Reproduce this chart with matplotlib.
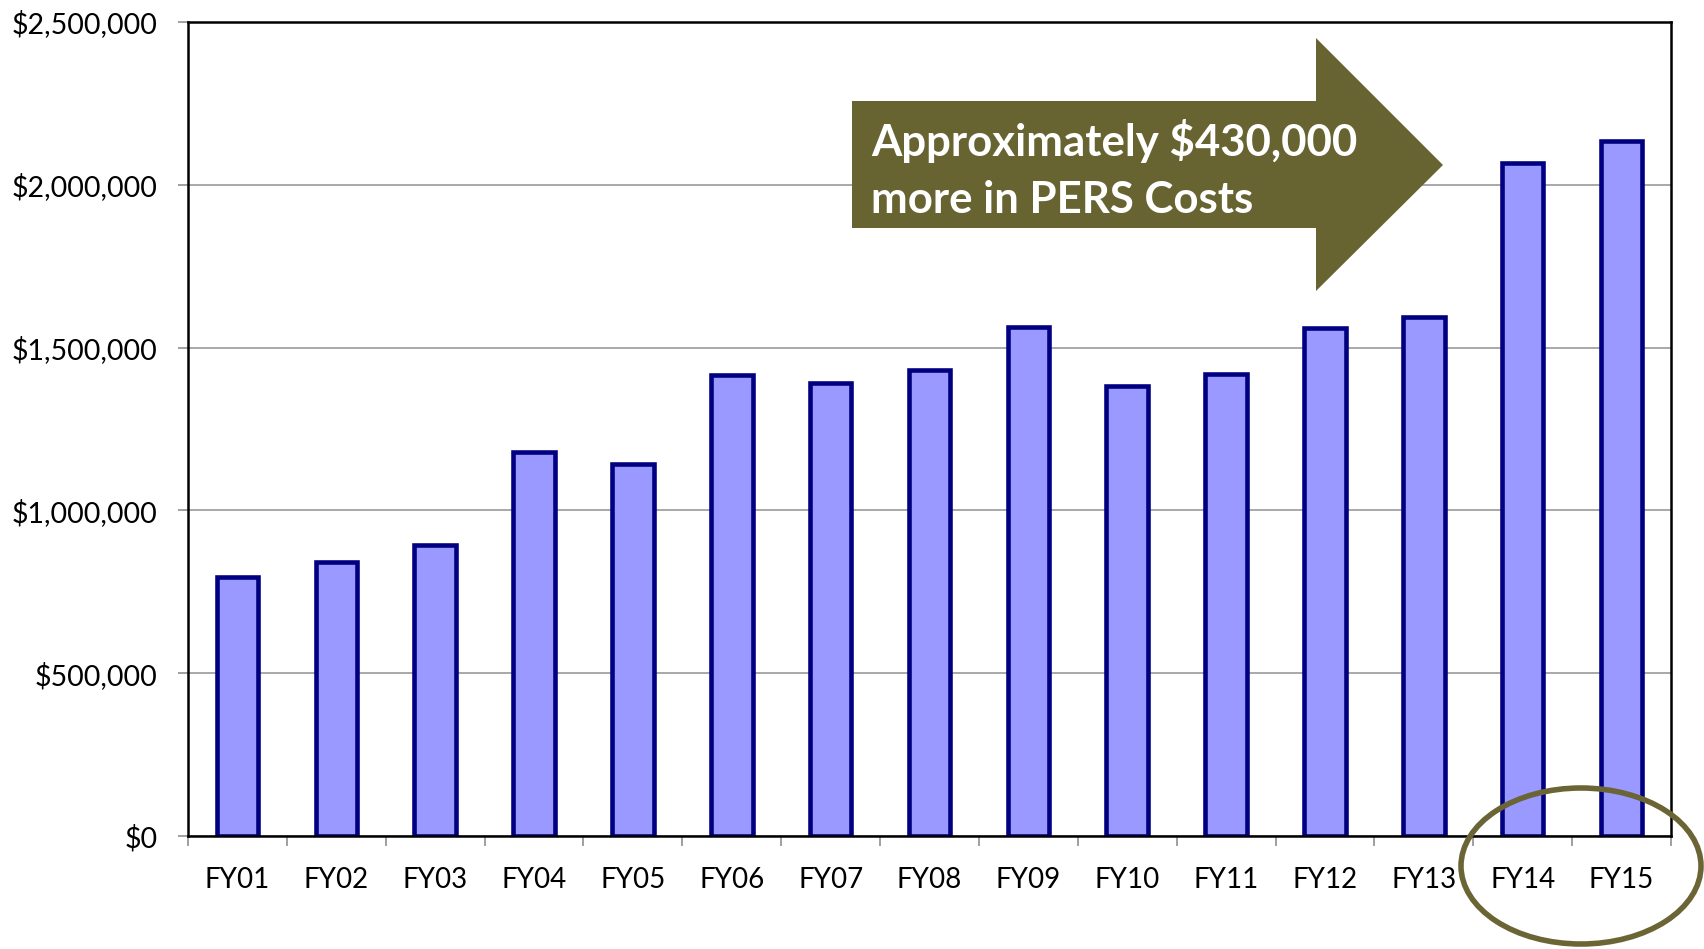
import matplotlib
matplotlib.use("Agg")
import matplotlib.pyplot as plt
from matplotlib.patches import Polygon, Ellipse
from matplotlib.ticker import FuncFormatter, FixedLocator

categories = ["FY01", "FY02", "FY03", "FY04", "FY05", "FY06", "FY07", "FY08",
              "FY09", "FY10", "FY11", "FY12", "FY13", "FY14", "FY15"]
pers_costs = [795000, 843000, 893000, 1180000, 1143000, 1417000, 1390000, 1430000,
              1563000, 1383000, 1420000, 1560000, 1593000, 2067000, 2133000]
y_ticks = [0, 500000, 1000000, 1500000, 2000000, 2500000]
callout_lines = ["Approximately $430,000", "more in PERS Costs"]

W, H = 1704, 949
fig = plt.figure(figsize=(W / 100, H / 100), dpi=100)
plt.rcParams['font.family'] = ['Lato', 'DejaVu Sans']

ax = fig.add_axes([188 / W, 1 - 836 / H, (1671 - 188) / W, (836 - 22) / H])
x = list(range(len(categories)))
ax.bar(x, pers_costs, width=0.42, color="#9999FF", edgecolor="#000080",
       linewidth=3.3, zorder=3)

ax.set_xlim(-0.5, len(categories) - 0.5)
ax.set_ylim(0, 2500000)
ax.set_yticks(y_ticks)
ax.yaxis.set_major_formatter(FuncFormatter(lambda v, p: "${:,.0f}".format(v)))
ax.set_xticks(x)
ax.set_xticklabels(categories)
ax.xaxis.set_minor_locator(FixedLocator([i - 0.5 for i in range(len(categories) + 1)]))

ax.tick_params(axis="x", which="major", length=0, pad=22, labelsize=20)
ax.tick_params(axis="x", which="minor", length=7, width=1.2, color="#909090")
ax.tick_params(axis="y", which="major", length=7, width=1.2, color="#909090",
               pad=15, labelsize=20.5)
ax.grid(axis="y", color="#999999", linewidth=1.2, zorder=0)
for s in ax.spines.values():
    s.set_color("black")
    s.set_linewidth(1.8)
    s.set_zorder(4)

# Callout arrow (figure pixel coordinates)
def px(xp, yp):
    return (xp / W, 1 - yp / H)

arrow_pts = [px(852, 101), px(1316, 101), px(1316, 38), px(1443, 165),
             px(1316, 291), px(1316, 228), px(852, 228)]
fig.patches.append(Polygon(arrow_pts, closed=True, transform=fig.transFigure,
                           facecolor="#686431", edgecolor="none", zorder=10))
fig.text(871 / W, 1 - 156 / H, callout_lines[0], color="white",
         fontsize=31.5, fontweight="bold", ha="left", va="baseline", zorder=11)
fig.text(871 / W, 1 - 213 / H, callout_lines[1], color="white",
         fontsize=31.5, fontweight="bold", ha="left", va="baseline", zorder=11)

# Highlight ellipse
cx, cy = px(1581, 866)
fig.patches.append(Ellipse((cx, cy), 240 / W, 156 / H, transform=fig.transFigure,
                           facecolor="none", edgecolor="#6B6535", linewidth=4.0,
                           zorder=10))

fig.savefig("out.png", dpi=100)
